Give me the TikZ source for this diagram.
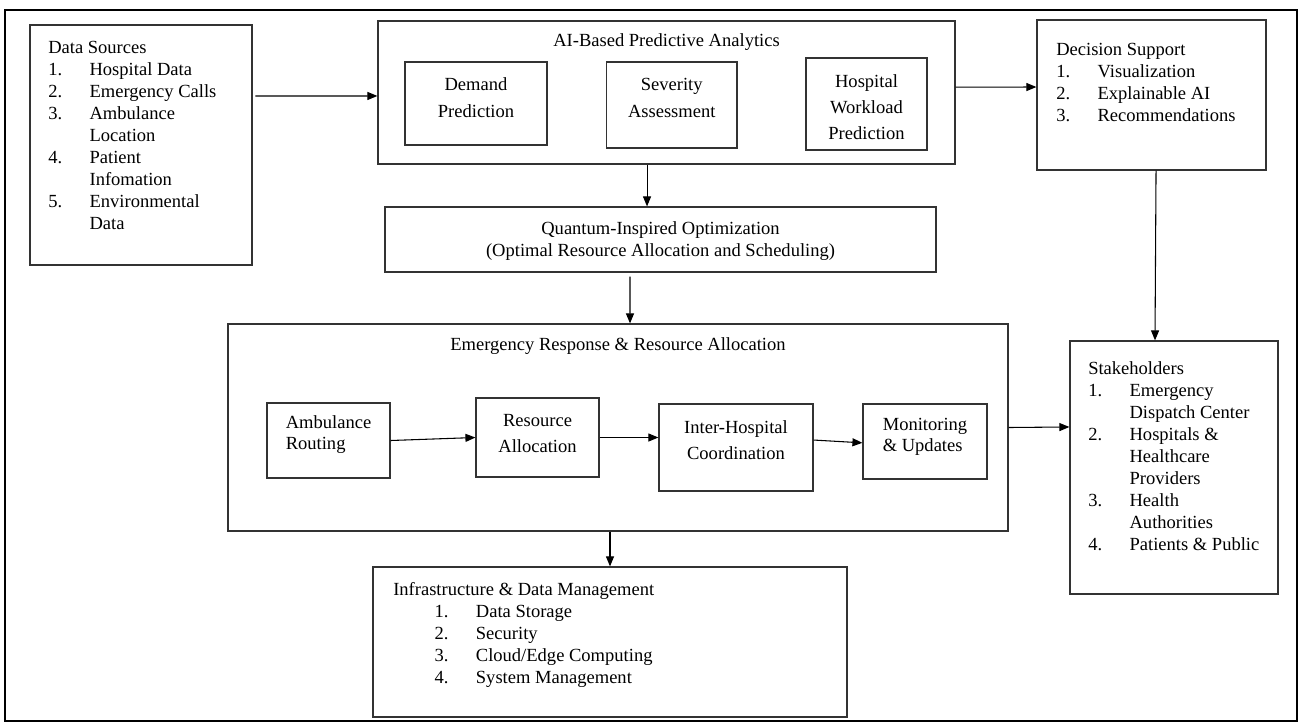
\documentclass[tikz,border=0pt]{standalone}
\usepackage{fontspec}
\setmainfont{Liberation Serif}
\usetikzlibrary{arrows.meta,positioning}
\newcommand{\lnum}[1]{\makebox[31pt][l]{#1}}

\begin{document}
\begin{tikzpicture}[
    x=0.75pt, y=-0.75pt,
    box/.style={rectangle, draw=black!80, line width=0.9pt, inner sep=0pt},
    boxtext/.style={inner sep=0pt, align=center, font=\fontsize{13.9pt}{20pt}\selectfont},
    listtext/.style={inner sep=0pt, align=left, anchor=north west, font=\fontsize{13.9pt}{16.5pt}\selectfont},
    arrow/.style={-{Triangle[length=7.5pt, width=6pt]}, line width=0.8pt, draw=black},
    outerframe/.style={draw=black, line width=1.6pt}
]
    \useasboundingbox (0,0) rectangle (1302,726);
    \draw [outerframe] (5,10) rectangle (1297,721);

    % top row
    \node [box, minimum width=166.5pt, minimum height=180pt] (src) at (141,145) {};
    \node [listtext] (srctxt) at (48,40.5) {Data Sources\\
        \lnum{1.}Hospital Data\\
        \lnum{2.}Emergency Calls\\
        \lnum{3.}Ambulance\\
        \lnum{}Location\\
        \lnum{4.}Patient\\
        \lnum{}Infomation\\
        \lnum{5.}Environmental\\
        \lnum{}Data};

    \node [box, minimum width=432.75pt, minimum height=107.25pt] (ai) at (666.5,92.5) {};
    \node [boxtext, below=10pt of ai.north] (aititle) {AI-Based Predictive Analytics};
    \node [box, minimum width=106.5pt, minimum height=62.25pt] (demand) at (476,103.5) {};
    \node [boxtext] (demandtxt) at (476,97.5) {Demand\\Prediction};
    \node [box, minimum width=97.9pt, minimum height=64.5pt] (severity) at (671.75,105) {};
    \node [boxtext] (severitytxt) at (671.75,98) {Severity\\Assessment};
    \node [box, minimum width=90.75pt, minimum height=69pt] (workload) at (866.5,104) {};
    \node [boxtext, font=\fontsize{13.9pt}{19.5pt}\selectfont] (workloadtxt) at (866.5,107) {Hospital\\Workload\\Prediction};

    \node [box, minimum width=171.75pt, minimum height=112.5pt] (dec) at (1151.5,95) {};
    \node [listtext] (dectxt) at (1056,42.5) {Decision Support\\
        \lnum{1.}Visualization\\
        \lnum{2.}Explainable AI\\
        \lnum{3.}Recommendations};

    % optimization
    \node [box, minimum width=413.25pt, minimum height=48.75pt] (quant) at (660.5,239.5) {};
    \node [boxtext, font=\fontsize{13.9pt}{16.5pt}\selectfont] (quanttxt) at (660.5,241) {Quantum-Inspired Optimization\\(Optimal Resource Allocation and Scheduling)};

    % response block
    \node [box, minimum width=585pt, minimum height=155.25pt] (era) at (618,427.5) {};
    \node [boxtext, below=10.7pt of era.north] (eratitle) {Emergency Response \& Resource Allocation};
    \node [box, minimum width=92.25pt, minimum height=56.25pt] (route) at (328.5,440.5) {};
    \node [boxtext, align=left, font=\fontsize{13.9pt}{16pt}\selectfont] (routetxt) at (328.5,434.5) {Ambulance\\Routing};
    \node [box, minimum width=92.25pt, minimum height=59.25pt] (alloc) at (537.5,437.5) {};
    \node [boxtext] (alloctxt) at (537.5,433.5) {Resource\\Allocation};
    \node [box, minimum width=115.5pt, minimum height=65.25pt] (coord) at (736,447.5) {};
    \node [boxtext, font=\fontsize{13.9pt}{19.5pt}\selectfont] (coordtxt) at (736,440) {Inter-Hospital\\Coordination};
    \node [box, minimum width=93pt, minimum height=56.25pt] (monitor) at (925,441.5) {};
    \node [boxtext, align=left, font=\fontsize{13.9pt}{16pt}\selectfont] (monitortxt) at (925,436.5) {Monitoring\\\& Updates};

    \node [box, minimum width=156pt, minimum height=189.75pt] (stake) at (1174,467.5) {};
    \node [listtext] (staketxt) at (1088,361.5) {Stakeholders\\
        \lnum{1.}Emergency\\
        \lnum{}Dispatch Center\\
        \lnum{2.}Hospitals \&\\
        \lnum{}Healthcare\\
        \lnum{}Providers\\
        \lnum{3.}Health\\
        \lnum{}Authorities\\
        \lnum{4.}Patients \& Public};

    \node [box, minimum width=355.5pt, minimum height=112.5pt] (infra) at (610,642) {};
    \node [listtext] (infratxt) at (393,582.5) {Infrastructure \& Data Management\\
        \hspace*{31pt}\lnum{1.}Data Storage\\
        \hspace*{31pt}\lnum{2.}Security\\
        \hspace*{31pt}\lnum{3.}Cloud/Edge Computing\\
        \hspace*{31pt}\lnum{4.}System Management};

    % connectors
    \draw [arrow, shorten <=2pt] ([yshift=36.75pt]src.east) -- ([yshift=-2.6pt]ai.west);
    \draw [arrow] ([yshift=4pt]ai.east) -- ([yshift=6pt]dec.west);
    \draw [arrow] ([xshift=-14.6pt]ai.south) -- ([xshift=-10.1pt]quant.north);
    \draw [arrow, shorten <=3pt] ([xshift=-22.9pt]quant.south) -- ([xshift=9pt]era.north);
    \draw [arrow] ([xshift=3.4pt]dec.south) -- ([xshift=-14.25pt]stake.north);
    \draw [arrow] (route.east) -- (alloc.west);
    \draw [arrow] (alloc.east) -- (alloc.east -| coord.west);
    \draw [arrow] ([yshift=5.6pt]coord.east) -- ([yshift=-1pt]monitor.west);
    \draw [arrow] (era.east) -- ([yshift=30.4pt]stake.west);
    \draw [arrow] (infra.north |- era.south) -- (infra.north);
\end{tikzpicture}
\end{document}
